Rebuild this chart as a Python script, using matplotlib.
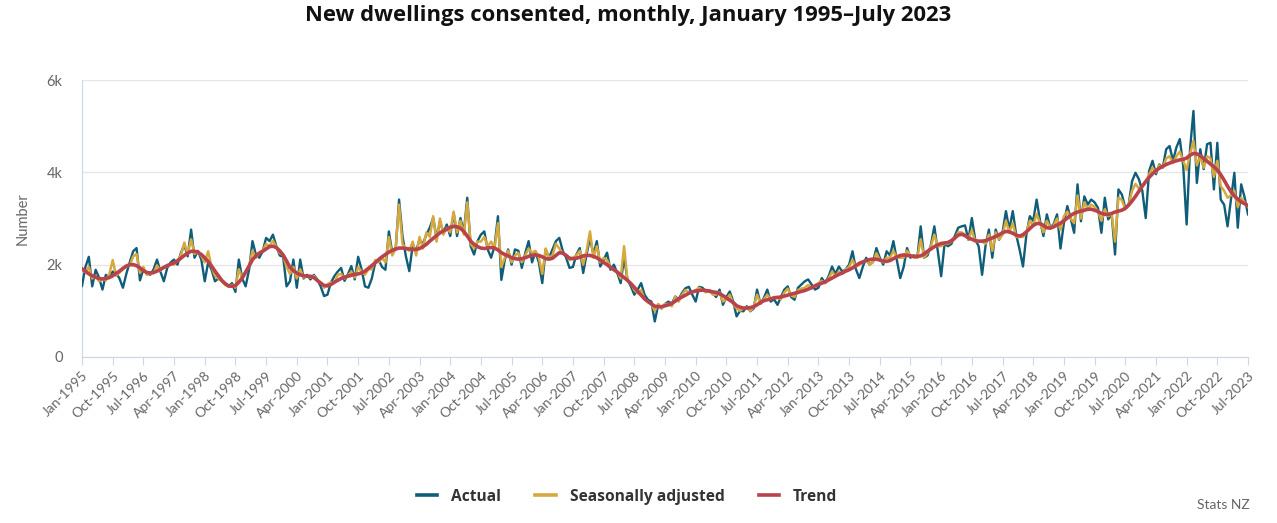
import matplotlib
matplotlib.use("Agg")
import matplotlib.pyplot as plt

# ---- data (dwellings per month), Jan 1995 .. Jul 2023 ----
actual = [
    1540, 1950, 2170, 1530, 1890, 1720, 1460, 1780, 1720, 1850, 1820, 1700,
    1500, 1800, 2050, 2290, 2360, 1660, 1900, 1820, 1780, 1900, 2110, 1850,
    1640, 1930, 2050, 2110, 2000, 2250, 2430, 2180, 2760, 2150, 2300, 2110,
    1640, 2050, 1890, 1640, 1700, 1650, 1580, 1530, 1600, 1410, 2110, 1700,
    1530, 1890, 2510, 2220, 2150, 2290, 2580, 2510, 2650, 2400, 2200, 2170,
    1530, 1640, 2110, 1500, 2110, 1700, 1780, 1680, 1780, 1680, 1530, 1320,
    1350, 1610, 1750, 1850, 1930, 1650, 1790, 1970, 1680, 2170, 1900, 1530,
    1500, 1700, 2040, 2110, 1950, 1890, 2720, 2260, 2330, 3410, 2620, 2180,
    1860, 2430, 2300, 2540, 2450, 2650, 2800, 3010, 2580, 2940, 2700, 2870,
    2620, 3120, 2620, 3010, 2700, 3450, 2400, 2220, 2510, 2650, 2720, 2330,
    2150, 2400, 3050, 1670, 2100, 2330, 2000, 2330, 2300, 1930, 2250, 2510,
    2050, 2280, 2050, 1600, 2330, 2150, 2330, 2510, 2580, 2300, 2150, 1930,
    1950, 2220, 2360, 1820, 2220, 2580, 2220, 2510, 1960, 2100, 2260, 1890,
    2000, 1820, 1600, 2150, 1670, 1530, 1350, 1460, 1600, 1350, 1240, 1200,
    770, 1130, 1050, 1150, 1200, 1150, 1310, 1250, 1390, 1490, 1520, 1350,
    1200, 1520, 1500, 1420, 1420, 1380, 1300, 1460, 1130, 1300, 1420, 1200,
    880, 1000, 990, 1100, 990, 1050, 1460, 1150, 1280, 1460, 1200, 1250,
    1130, 1300, 1460, 1530, 1300, 1240, 1500, 1570, 1640, 1680, 1570, 1460,
    1500, 1710, 1600, 1750, 1960, 1800, 1960, 1850, 1900, 2000, 2290, 1900,
    1710, 1950, 2150, 2000, 2060, 2360, 2150, 2000, 2290, 2200, 2510, 2100,
    1710, 1950, 2360, 2150, 2200, 2150, 2830, 2150, 2200, 2430, 2830, 2300,
    1750, 2450, 2400, 2450, 2620, 2800, 2830, 2850, 2540, 3010, 2540, 2400,
    1780, 2400, 2760, 2150, 2760, 2540, 2700, 3160, 2760, 3160, 2650, 2330,
    1960, 2650, 3050, 2950, 3410, 2950, 2620, 3090, 2800, 2880, 3090, 2350,
    2900, 3270, 3000, 2690, 3740, 2940, 3480, 3300, 3410, 3350, 3230, 2690,
    3450, 2980, 3100, 2220, 3630, 3520, 3230, 3300, 3810, 3990, 3850, 3600,
    3010, 4030, 4250, 3960, 4170, 4100, 4500, 4570, 4250, 4540, 4720, 4140,
    2870, 4500, 5330, 3770, 4500, 4070, 4610, 4640, 3630, 4640, 3410, 3300,
    2830, 3410, 3990, 2800, 3740, 3460, 3090,
]

seasonally_adjusted = [
    1880, 1840, 1950, 1700, 1760, 1640, 1700, 1660, 1790, 2100, 1760, 1830,
    1900, 1960, 1980, 2180, 2230, 1820, 1950, 1780, 1800, 1820, 1980, 1870,
    1950, 1960, 2020, 2000, 2100, 2200, 2480, 2230, 2550, 2230, 2280, 2190,
    2050, 2290, 1950, 1760, 1700, 1640, 1560, 1520, 1560, 1500, 1900, 1700,
    1850, 1950, 2300, 2150, 2250, 2300, 2450, 2400, 2520, 2380, 2250, 2200,
    1950, 1800, 1950, 1700, 1900, 1720, 1750, 1720, 1760, 1650, 1620, 1500,
    1580, 1620, 1600, 1780, 1800, 1700, 1760, 1850, 1720, 1950, 1850, 1780,
    1900, 1900, 2100, 2050, 2150, 2050, 2600, 2200, 2350, 3300, 2450, 2350,
    2300, 2500, 2200, 2600, 2350, 2700, 2600, 3050, 2500, 3000, 2650, 2800,
    2700, 3150, 2700, 2950, 2650, 3350, 2450, 2350, 2500, 2500, 2600, 2400,
    2500, 2350, 2900, 1950, 2150, 2300, 2050, 2200, 2250, 2050, 2200, 2350,
    2250, 2300, 2150, 1800, 2350, 2150, 2200, 2450, 2350, 2250, 2200, 2100,
    2150, 2200, 2300, 2000, 2300, 2720, 2150, 2400, 2050, 2150, 2100, 1950,
    1900, 1850, 1700, 2400, 1650, 1600, 1450, 1380, 1450, 1250, 1200, 1150,
    1000, 1150, 1050, 1150, 1150, 1100, 1300, 1200, 1350, 1450, 1400, 1400,
    1450, 1500, 1450, 1400, 1450, 1350, 1350, 1400, 1200, 1250, 1350, 1150,
    1050, 1000, 1050, 1080, 1000, 1080, 1350, 1150, 1250, 1350, 1250, 1300,
    1300, 1250, 1400, 1480, 1330, 1300, 1450, 1480, 1500, 1560, 1500, 1550,
    1600, 1650, 1600, 1700, 1850, 1750, 1850, 1800, 1900, 1950, 2100, 1950,
    2000, 2050, 2100, 2000, 2050, 2250, 2100, 2050, 2150, 2150, 2300, 2150,
    2150, 2150, 2300, 2200, 2150, 2150, 2550, 2150, 2250, 2400, 2650, 2400,
    2400, 2450, 2450, 2500, 2550, 2700, 2700, 2650, 2550, 2750, 2500, 2500,
    2500, 2450, 2650, 2300, 2700, 2550, 2650, 2950, 2700, 2900, 2600, 2600,
    2600, 2700, 2950, 2850, 3100, 2900, 2700, 2950, 2800, 2850, 3000, 2750,
    3050, 3150, 3000, 2900, 3500, 3000, 3350, 3200, 3300, 3250, 3150, 2950,
    3200, 3050, 3100, 2500, 3450, 3400, 3200, 3300, 3600, 3750, 3650, 3700,
    3800, 3950, 4100, 4000, 4150, 4100, 4300, 4350, 4200, 4350, 4450, 4250,
    4050, 4400, 4680, 4150, 4350, 4100, 4350, 4300, 3900, 4250, 3700, 3600,
    3450, 3500, 3600, 3250, 3450, 3350, 3250,
]

trend = [
    1910, 1860, 1800, 1760, 1730, 1700, 1690, 1700, 1720, 1760, 1810, 1860,
    1920, 1970, 2000, 2000, 1980, 1930, 1870, 1830, 1820, 1830, 1860, 1900,
    1940, 1980, 2010, 2040, 2080, 2140, 2200, 2250, 2290, 2290, 2270, 2220,
    2150, 2070, 1970, 1860, 1760, 1660, 1590, 1540, 1530, 1550, 1620, 1710,
    1840, 1970, 2110, 2190, 2250, 2290, 2340, 2390, 2400, 2370, 2300, 2210,
    2080, 1940, 1870, 1820, 1780, 1760, 1750, 1750, 1720, 1660, 1600, 1550,
    1540, 1570, 1620, 1660, 1700, 1730, 1750, 1770, 1790, 1800, 1820, 1860,
    1920, 1980, 2040, 2110, 2170, 2220, 2270, 2310, 2340, 2360, 2360, 2350,
    2340, 2330, 2330, 2350, 2390, 2440, 2510, 2570, 2630, 2690, 2730, 2770,
    2810, 2830, 2820, 2790, 2720, 2620, 2510, 2440, 2390, 2360, 2350, 2360,
    2370, 2360, 2320, 2260, 2220, 2190, 2150, 2130, 2120, 2130, 2150, 2180,
    2200, 2210, 2200, 2170, 2130, 2120, 2140, 2200, 2260, 2250, 2200, 2140,
    2130, 2140, 2160, 2190, 2200, 2200, 2180, 2150, 2100, 2050, 2000, 1940,
    1890, 1840, 1780, 1720, 1660, 1590, 1510, 1420, 1340, 1260, 1200, 1150,
    1100, 1090, 1090, 1110, 1130, 1160, 1210, 1260, 1300, 1340, 1380, 1410,
    1430, 1440, 1450, 1440, 1430, 1410, 1400, 1370, 1330, 1280, 1230, 1180,
    1110, 1080, 1060, 1060, 1070, 1090, 1130, 1180, 1220, 1240, 1260, 1280,
    1290, 1300, 1320, 1340, 1360, 1380, 1400, 1420, 1440, 1470, 1500, 1540,
    1570, 1600, 1630, 1670, 1710, 1750, 1790, 1820, 1860, 1890, 1930, 1980,
    2030, 2060, 2090, 2110, 2120, 2120, 2100, 2080, 2070, 2090, 2130, 2170,
    2200, 2210, 2200, 2190, 2180, 2180, 2190, 2230, 2290, 2340, 2390, 2430,
    2460, 2470, 2480, 2520, 2580, 2640, 2660, 2630, 2580, 2550, 2520, 2510,
    2510, 2520, 2550, 2580, 2610, 2650, 2690, 2720, 2710, 2680, 2640, 2620,
    2650, 2710, 2780, 2850, 2890, 2890, 2850, 2800, 2790, 2820, 2860, 2900,
    2950, 3010, 3070, 3110, 3140, 3160, 3180, 3200, 3200, 3180, 3150, 3110,
    3090, 3090, 3110, 3140, 3160, 3180, 3220, 3290, 3380, 3480, 3590, 3700,
    3800, 3890, 3970, 4040, 4090, 4130, 4170, 4200, 4230, 4250, 4270, 4280,
    4310, 4370, 4410, 4400, 4360, 4300, 4240, 4180, 4120, 4050, 3950, 3830,
    3700, 3580, 3490, 3420, 3360, 3320, 3280,
]

month_names = ["Jan", "Feb", "Mar", "Apr", "May", "Jun",
               "Jul", "Aug", "Sep", "Oct", "Nov", "Dec"]
start_year = 1995
n = len(trend)
months = list(range(n))
tick_pos = list(range(0, n, 9))
tick_labels = [f"{month_names[m % 12]}-{start_year + m // 12}" for m in tick_pos]
y_ticks = [0, 2000, 4000, 6000]
y_tick_labels = ["0", "2k", "4k", "6k"]

# ---- styling ----
plt.rcParams["font.family"] = ["Lato", "DejaVu Sans"]
C_ACT = "#0f5d78"
C_SA = "#d6a93d"
C_TR = "#b9434c"
GREY = "#666666"

fig = plt.figure(figsize=(12.77, 5.23), dpi=100)
ax = fig.add_axes([82 / 1277, 1 - 357 / 523, (1248 - 82) / 1277, (357 - 80) / 523])

ax.plot(months, actual, color=C_ACT, lw=1.7, label="Actual", zorder=3)
ax.plot(months, seasonally_adjusted, color=C_SA, lw=1.8,
        label="Seasonally adjusted", zorder=4)
ax.plot(months, trend, color=C_TR, lw=2.6, label="Trend", zorder=5)

ax.set_xlim(0, n - 1)
ax.set_ylim(0, 6000)
ax.set_yticks(y_ticks)
ax.set_yticklabels(y_tick_labels)
ax.set_xticks(tick_pos)
ax.set_xticklabels(tick_labels, rotation=45, ha="right", va="top",
                   rotation_mode="anchor")
ax.grid(axis="y", color="#e6e6e6", lw=1)
ax.set_axisbelow(True)
for s in ["top", "right"]:
    ax.spines[s].set_visible(False)
ax.spines["left"].set_color("#ccd6eb")
ax.spines["bottom"].set_color("#ccd6eb")
ax.tick_params(axis="y", length=0, pad=14, labelsize=10.5, labelcolor=GREY)
ax.tick_params(axis="x", length=6, color="#ccd6eb", pad=3,
               labelsize=10, labelcolor=GREY)

ax.set_ylabel("Number", color=GREY, fontsize=10.5, labelpad=12)

fig.text(0.492, 0.97, "New dwellings consented, monthly, January 1995\u2013July 2023",
         ha="center", va="center", fontsize=15.8, fontweight="bold", color="#111111",
         family=["Open Sans", "DejaVu Sans"])

leg = fig.legend(loc="center", bbox_to_anchor=(0.491, 0.05), ncol=3, frameon=False,
                 handlelength=1.3, columnspacing=2.2, handletextpad=0.9,
                 prop={"weight": "bold", "size": 11.2, "family": ["Open Sans", "DejaVu Sans"]})
for t in leg.get_texts():
    t.set_color("#333333")
for h in leg.get_lines():
    h.set_linewidth(2.6)

fig.text(0.979, 0.034, "Stats NZ", ha="right", va="center", fontsize=10, color=GREY)

fig.savefig("out.png", dpi=100)
